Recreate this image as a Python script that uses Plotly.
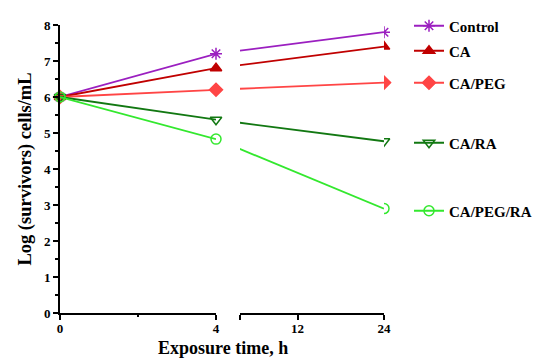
import plotly.graph_objects as go

# ---- data ----
times = [0, 4, 24]
series_names = ["Control", "CA", "CA/PEG", "CA/RA", "CA/PEG/RA"]
control = [6.0, 7.2, 7.8]
ca = [6.0, 6.8, 7.4]
ca_peg = [6.0, 6.2, 6.4]
ca_ra = [6.0, 5.37, 4.77]
ca_peg_ra = [6.0, 4.83, 2.9]
y_ticks = [0, 1, 2, 3, 4, 5, 6, 7, 8]
x1_ticks = [0, 4]
x2_ticks = [4, 12, 24]
x2_ticktext = ["", "12", "24"]

values = [control, ca, ca_peg, ca_ra, ca_peg_ra]
colors = ["#9B1FC0", "#C00000", "#FF4545", "#127812", "#33E82E"]
symbols = ["asterisk-open", "triangle-up", "diamond", "triangle-down-open", "circle-open"]
legend_y_px = [26, 51, 83, 143, 211]

W, H = 550, 364
OFF = 8  # page body margin offset
L, T = 60 - OFF, 25 - OFF
pw, ph = 324, 288
R, B = W - L - pw, H - T - ph


def fx(sx):
    return (sx - OFF - L) / pw


def fy(sy):
    return (T + ph - (sy - OFF)) / ph


d1 = fx(216)
d2 = fx(240)
r0 = 4 + 20 * (d2 - d1) / (1 - d1)

FONT = "Liberation Serif, Times New Roman, serif"

fig = go.Figure()
for i, (name, v) in enumerate(zip(series_names, values)):
    leg = "legend" if i == 0 else f"legend{i+1}"
    mk = dict(symbol=symbols[i], size=10, color=colors[i],
              line=dict(color=colors[i], width=1.5))
    # first segment 0 -> 4
    fig.add_trace(go.Scatter(x=times[:2], y=v[:2], mode="lines+markers", name=name,
                             line=dict(color=colors[i], width=1.8), marker=mk,
                             xaxis="x", yaxis="y", cliponaxis=False, legend=leg))
    # second segment line 4 -> 24, clipped at the break
    fig.add_trace(go.Scatter(x=times[1:], y=v[1:], mode="lines", showlegend=False,
                             line=dict(color=colors[i], width=1.8),
                             xaxis="x3", yaxis="y"))
    # marker at 24
    fig.add_trace(go.Scatter(x=times[2:], y=v[2:], mode="markers", showlegend=False,
                             marker=mk, xaxis="x2", yaxis="y", cliponaxis=False))

axis_common = dict(showline=True, linecolor="black", linewidth=2, showgrid=False,
                   zeroline=False, ticks="outside", tickcolor="black", tickwidth=1.5,
                   ticklen=5, automargin=False,
                   tickfont=dict(family=FONT, size=13, color="black", weight="bold"))

layout = dict(
    width=W, height=H,
    margin=dict(l=L, r=R, t=T, b=B, autoexpand=False),
    plot_bgcolor="white", paper_bgcolor="white",
    xaxis=dict(domain=[0, d1], range=[0, 4], tickvals=x1_ticks, anchor="y",
               ticklabelstandoff=-3,
               minor=dict(tickvals=[2], ticks="outside", ticklen=2, tickcolor="black"),
               **axis_common),
    xaxis2=dict(domain=[d2, 1], range=[4, 24], tickvals=x2_ticks, ticktext=x2_ticktext,
                ticklabelstandoff=-3, anchor="y", **axis_common),
    xaxis3=dict(domain=[d2, 1], range=[r0, 24], anchor="y", visible=False),
    yaxis=dict(range=[0, 8], tickvals=y_ticks, anchor="x",
               minor=dict(dtick=0.5, ticks="outside", ticklen=3, tickcolor="black"),
               title=dict(text="Log (survivors) cells/mL", standoff=7,
                          font=dict(family=FONT, size=18.5, color="black", weight="bold")),
               **axis_common),
    annotations=[dict(text="Exposure time, h", x=fx(223), y=fy(348), xref="paper",
                      yref="paper", showarrow=False, yanchor="middle",
                      font=dict(family=FONT, size=18, color="black", weight="bold"))],
)
for i, ypx in enumerate(legend_y_px):
    key = "legend" if i == 0 else f"legend{i+1}"
    layout[key] = dict(x=fx(409), y=fy(ypx), xanchor="left", yanchor="middle",
                       bgcolor="rgba(0,0,0,0)", itemwidth=30,
                       font=dict(family=FONT, size=15, color="black", weight="bold"))
fig.update_layout(**layout)
fig.write_html("out.html")
